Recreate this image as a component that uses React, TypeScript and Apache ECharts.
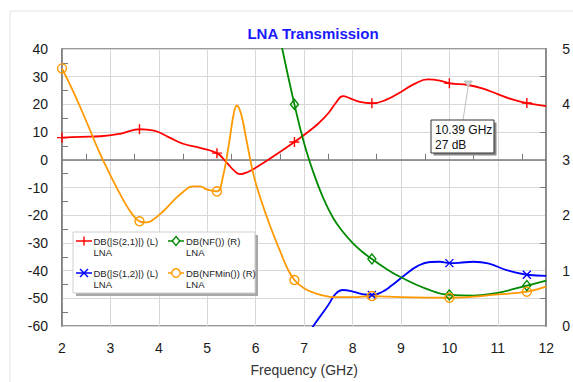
import React, { useEffect, useRef } from 'react';
import * as echarts from 'echarts';

// ---------- data ----------
const TITLE = 'LNA Transmission';
const X_NAME = 'Frequency (GHz)';
const X_MIN = 2;
const X_MAX = 12;
const LEFT_MIN = -60;
const LEFT_MAX = 40;
const RIGHT_MIN = 0;
const RIGHT_MAX = 5;

// DB(|S(2,1)|), left axis
const S21: [number, number][] = [
  [2.0, 8.0], [2.4, 8.3], [2.8, 8.5], [3.2, 9.4], [3.6, 11.0], [3.9, 10.5], [4.2, 8.2],
  [4.5, 5.8], [4.85, 4.3], [5.2, 2.4], [5.4, -1.0], [5.55, -3.8], [5.68, -5.2], [5.85, -4.3],
  [6.0, -2.9], [6.4, 1.6], [6.8, 6.4], [7.1, 10.3], [7.3, 13.2], [7.5, 16.8], [7.65, 20.4],
  [7.8, 23.0], [7.95, 22.2], [8.15, 20.9], [8.4, 20.4], [8.7, 21.7], [9.0, 24.5],
  [9.3, 27.6], [9.55, 29.0], [9.8, 28.6], [10.0, 27.6], [10.39, 27.0], [10.7, 25.7],
  [11.0, 23.7], [11.3, 21.8], [11.6, 20.5], [12.0, 19.4],
];

// DB(|S(1,2)|), left axis
const S12: [number, number][] = [
  [6.8, -70], [7.19, -60], [7.5, -52.4], [7.65, -48.4], [7.8, -47.0], [7.95, -47.3],
  [8.2, -48.5], [8.4, -48.8], [8.6, -47.8], [8.8, -45.5], [9.1, -41.3], [9.35, -38.3],
  [9.6, -36.9], [9.8, -36.8], [10.0, -37.3], [10.2, -37.2], [10.5, -36.8], [10.8, -37.4],
  [11.2, -39.9], [11.6, -41.5], [12.0, -41.9],
];

// DB(NF()), right axis
const NF: [number, number][] = [
  [6.3, 6.1], [6.55, 5.0], [6.8, 4.0], [7.0, 3.3], [7.2, 2.75], [7.4, 2.3], [7.6, 1.95],
  [7.8, 1.7], [8.0, 1.5], [8.2, 1.34], [8.4, 1.21], [8.7, 1.03], [9.0, 0.88], [9.5, 0.68],
  [10.0, 0.56], [10.5, 0.55], [11.0, 0.6], [11.6, 0.73], [12.0, 0.82],
];

// DB(NFMin()), right axis
const NFMIN: [number, number][] = [
  [2.0, 4.65], [2.25, 4.2], [2.5, 3.7], [2.75, 3.18], [3.0, 2.72], [3.25, 2.3], [3.45, 2.02],
  [3.6, 1.89], [3.75, 1.87], [3.9, 1.93], [4.1, 2.08], [4.3, 2.26], [4.5, 2.42], [4.7, 2.52],
  [4.85, 2.52], [5.0, 2.46], [5.2, 2.43], [5.32, 2.68], [5.45, 3.3], [5.55, 3.85], [5.61, 3.98],
  [5.7, 3.82], [5.8, 3.4], [5.95, 2.75], [6.1, 2.3], [6.3, 1.8], [6.5, 1.36], [6.65, 1.05],
  [6.8, 0.83], [7.0, 0.68], [7.2, 0.6], [7.4, 0.55], [7.6, 0.52], [8.0, 0.52], [8.4, 0.54],
  [9.0, 0.52], [10.0, 0.51], [11.0, 0.57], [11.6, 0.62], [12.0, 0.71],
];

const MARKER_FREQS = [2, 3.6, 5.2, 6.8, 8.4, 10, 11.6];
const ANNOT_POINT: [number, number] = [10.39, 27];
const ANNOT_LINES = ['10.39 GHz', '27 dB'];

const LEGEND_NAMES = ['DB(|S(2,1)|) (L)', 'DB(NF()) (R)', 'DB(|S(1,2)|) (L)', 'DB(NFMin()) (R)'];
const LEGEND_SUB = 'LNA';

// ---------- styles ----------
const FONT = '"Liberation Sans", Arial, sans-serif';
const RED = '#ff0000';
const GREEN = '#008a00';
const BLUE = '#0000ff';
const ORANGE = '#ff9900';
const AXIS = '#7a7a7a';
const GRIDC = '#d8d8d8';

const PLUS = 'path://M0,5H10M5,0V10';
const CROSS = 'path://M0,0L10,10M10,0L0,10';

function markers(data: [number, number][]) {
  return data.filter((d) => MARKER_FREQS.some((f) => Math.abs(f - d[0]) < 1e-6));
}

export default function App() {
  const ref = useRef<HTMLDivElement>(null);

  useEffect(() => {
    const chart = echarts.init(ref.current!, null, { renderer: 'svg' });

    const lineSeries = (name: string, data: [number, number][], color: string, yAxisIndex: number, extra: any = {}) => ({
      name,
      type: 'line',
      data,
      yAxisIndex,
      smooth: 0.45,
      showSymbol: false,
      clip: true,
      lineStyle: { color, width: 1.8 },
      itemStyle: { color },
      z: 3,
      ...extra,
    });
    const markSeries = (name: string, data: [number, number][], color: string, yAxisIndex: number, symbol: string, size: number | number[]) => ({
      name: name + ' markers',
      type: 'scatter',
      data: markers(data),
      yAxisIndex,
      symbol,
      symbolSize: size,
      clip: true,
      itemStyle: { color: 'none', borderColor: color, borderWidth: 1.4, opacity: 1 },
      z: 4,
    });

    const axisCommon = {
      type: 'value',
      axisLine: { show: true, lineStyle: { color: AXIS, width: 1.5 } },
      axisTick: { show: false, inside: true },
      minorTick: { show: true, splitNumber: 2, length: 6, lineStyle: { color: AXIS, width: 1 } },
      minorSplitLine: { show: false },
      axisLabel: { fontSize: 14, color: '#1a1a1a', fontFamily: FONT },
    };

    chart.setOption({
      animation: false,
      backgroundColor: '#ffffff',
      grid: {
        left: 62, right: 25, top: 49, bottom: 51,
        show: true, borderColor: AXIS, borderWidth: 1.5, backgroundColor: 'transparent',
      },
      xAxis: {
        ...axisCommon,
        min: X_MIN, max: X_MAX, interval: 1,
        splitLine: { show: true, lineStyle: { color: GRIDC, width: 1 } },
        axisLabel: { ...axisCommon.axisLabel, margin: 15 },
        name: X_NAME,
        nameLocation: 'middle',
        nameGap: 37,
        nameTextStyle: { fontSize: 14, color: '#333', fontFamily: FONT },
      },
      yAxis: [
        {
          ...axisCommon,
          min: LEFT_MIN, max: LEFT_MAX, interval: 10,
          splitLine: { show: true, lineStyle: { color: GRIDC, width: 1 } },
          axisLabel: { ...axisCommon.axisLabel, margin: 14 },
        },
        {
          ...axisCommon,
          position: 'right',
          min: RIGHT_MIN, max: RIGHT_MAX, interval: 1,
          splitLine: { show: false },
          axisLabel: { ...axisCommon.axisLabel, margin: 16 },
        },
      ],
      series: [
        lineSeries(LEGEND_NAMES[0], S21, RED, 0, {
          markPoint: {
            symbol: 'triangle',
            symbolRotate: 180,
            symbolSize: [8, 6],
            symbolOffset: [0, -1],
            label: { show: false },
            itemStyle: { color: '#d4d4d4', borderColor: '#a0a0a0', borderWidth: 0.6 },
            data: [{ coord: ANNOT_POINT }],
            z: 6,
          },
        }),
        lineSeries(LEGEND_NAMES[2], S12, BLUE, 0),
        lineSeries(LEGEND_NAMES[1], NF, GREEN, 1),
        lineSeries(LEGEND_NAMES[3], NFMIN, ORANGE, 1),
        markSeries(LEGEND_NAMES[0], S21, RED, 0, PLUS, 10),
        markSeries(LEGEND_NAMES[2], S12, BLUE, 0, CROSS, 8),
        markSeries(LEGEND_NAMES[1], NF, GREEN, 1, 'diamond', [8, 10]),
        markSeries(LEGEND_NAMES[3], NFMIN, ORANGE, 1, 'circle', 9),
      ],
    });

    const p = chart.convertToPixel({ xAxisIndex: 0, yAxisIndex: 0 }, ANNOT_POINT) as number[];
    const boxX = Math.round(p[0] - 37);
    const boxY = Math.round(p[1] + 35);

    const legendIcon = (cx: number, cy: number, color: string, kind: string) => {
      const els: any[] = [
        { type: 'line', shape: { x1: cx - 8, y1: cy, x2: cx + 8, y2: cy }, style: { stroke: color, lineWidth: 1.5 } },
      ];
      if (kind === 'plus') {
        els.push({ type: 'line', shape: { x1: cx, y1: cy - 4.5, x2: cx, y2: cy + 4.5 }, style: { stroke: color, lineWidth: 1.4 } });
      } else if (kind === 'cross') {
        els.push({ type: 'line', shape: { x1: cx - 4, y1: cy - 4, x2: cx + 4, y2: cy + 4 }, style: { stroke: color, lineWidth: 1.4 } });
        els.push({ type: 'line', shape: { x1: cx + 4, y1: cy - 4, x2: cx - 4, y2: cy + 4 }, style: { stroke: color, lineWidth: 1.4 } });
      } else if (kind === 'diamond') {
        els.push({ type: 'polygon', shape: { points: [[cx, cy - 4.5], [cx + 3.8, cy], [cx, cy + 4.5], [cx - 3.8, cy]] }, style: { fill: '#fff', stroke: color, lineWidth: 1.4 } });
      } else {
        els.push({ type: 'circle', shape: { cx, cy, r: 4.2 }, style: { fill: '#fff', stroke: color, lineWidth: 1.4 } });
      }
      return els;
    };
    const legendText = (x: number, y: number, name: string) => [
      { type: 'text', x, y, style: { text: name, fontSize: 9.5, fontFamily: FONT, fill: '#222', verticalAlign: 'middle' } },
      { type: 'text', x, y: y + 11.5, style: { text: LEGEND_SUB, fontSize: 9.5, fontFamily: FONT, fill: '#222', verticalAlign: 'middle' } },
    ];

    chart.setOption({
      graphic: [
        { type: 'rect', shape: { x: 10, y: 11, width: 700, height: 500 }, style: { fill: 'none', stroke: '#e2e2e2', lineWidth: 1 }, z: -1, silent: true },
        {
          type: 'text', x: 313, y: 33.5,
          style: { text: TITLE, fontSize: 15, fontWeight: 'bold', fontFamily: FONT, fill: '#1a1aff', align: 'center', verticalAlign: 'middle' },
          z: 100,
        },
        // legend box
        { type: 'rect', shape: { x: 76, y: 235, width: 182, height: 61 }, style: { fill: '#a8a8a8' }, z: 100 },
        { type: 'rect', shape: { x: 73, y: 232, width: 182, height: 61 }, style: { fill: '#fff', stroke: '#cfcfcf', lineWidth: 1 }, z: 100 },
        ...legendIcon(84, 241, RED, 'plus').map((e) => ({ ...e, z: 101 })),
        ...legendIcon(176, 241, GREEN, 'diamond').map((e) => ({ ...e, z: 101 })),
        ...legendIcon(84, 273, BLUE, 'cross').map((e) => ({ ...e, z: 101 })),
        ...legendIcon(176, 273, ORANGE, 'circle').map((e) => ({ ...e, z: 101 })),
        ...legendText(93.5, 241, LEGEND_NAMES[0]).map((e) => ({ ...e, z: 101 })),
        ...legendText(186, 241, LEGEND_NAMES[1]).map((e) => ({ ...e, z: 101 })),
        ...legendText(93.5, 273, LEGEND_NAMES[2]).map((e) => ({ ...e, z: 101 })),
        ...legendText(186, 273, LEGEND_NAMES[3]).map((e) => ({ ...e, z: 101 })),
        // annotation
        { type: 'line', shape: { x1: p[0], y1: p[1] + 1, x2: boxX + 32, y2: boxY }, style: { stroke: '#b0b0b0', lineWidth: 0.8 }, z: 100 },
        { type: 'rect', shape: { x: boxX + 2.5, y: boxY + 2.5, width: 63, height: 33 }, style: { fill: '#8a8a8a' }, z: 100 },
        { type: 'rect', shape: { x: boxX, y: boxY, width: 63, height: 33 }, style: { fill: '#fff', stroke: '#333', lineWidth: 1 }, z: 100 },
        { type: 'text', x: boxX + 4, y: boxY + 10, style: { text: ANNOT_LINES[0], fontSize: 12, fontFamily: FONT, fill: '#111', verticalAlign: 'middle' }, z: 101 },
        { type: 'text', x: boxX + 4, y: boxY + 25, style: { text: ANNOT_LINES[1], fontSize: 12, fontFamily: FONT, fill: '#111', verticalAlign: 'middle' }, z: 101 },
      ],
    });

    return () => chart.dispose();
  }, []);

  return <div ref={ref} style={{ position: 'absolute', left: 0, top: 0, width: 573, height: 382 }} />;
}
